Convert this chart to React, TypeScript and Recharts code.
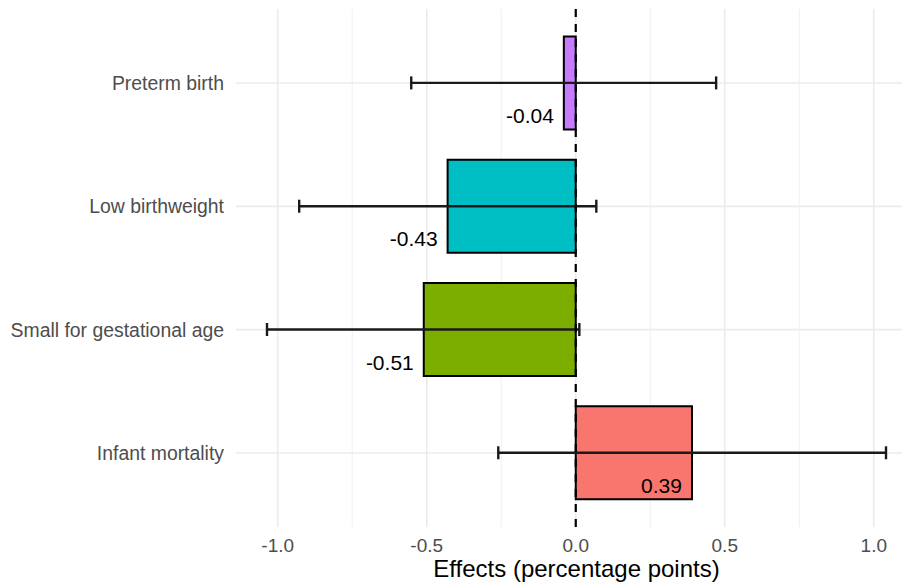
import React from "react";
import {
  BarChart,
  Bar,
  Cell,
  XAxis,
  YAxis,
  ReferenceLine,
  ErrorBar,
  LabelList,
  Label,
} from "recharts";

const categories = [
  "Preterm birth",
  "Low birthweight",
  "Small for gestational age",
  "Infant mortality",
];
const effects = [-0.04, -0.43, -0.51, 0.39];
const ciLow = [-0.552, -0.928, -1.036, -0.26];
const ciHigh = [0.471, 0.069, 0.012, 1.041];
const barColors = ["#C77CFF", "#00BFC4", "#7CAE00", "#F8766D"];

const xTicks = [-1, -0.5, 0, 0.5, 1];
const minorTicks = [-0.75, -0.25, 0.25, 0.75];

const data = categories.map((name, i) => ({
  name,
  value: effects[i],
  err: [effects[i] - ciLow[i], ciHigh[i] - effects[i]],
}));

const FONT = "'Liberation Sans', Arial, sans-serif";

// geom_text(hjust > 1): right edge sits just left of the bar end
function ValueLabel(props: any) {
  const vb = props.viewBox ?? props;
  const x = Number(vb.x);
  const w = Number(vb.width);
  const y = Number(vb.y);
  const h = Number(vb.height);
  const v = Number(props.value);
  const end = v < 0 ? Math.min(x, x + w) : Math.max(x, x + w);
  return (
    <text
      x={end - 10}
      y={y + h / 2 + 40}
      textAnchor="end"
      fontSize={21}
      fontFamily={FONT}
      fill="#000"
    >
      {v.toFixed(2)}
    </text>
  );
}

export default function App() {
  return (
    <div
      style={{
        position: "fixed",
        left: 0,
        top: 0,
        width: 902,
        height: 585,
        overflow: "hidden",
        background: "#fff",
      }}
    >
      <BarChart
        width={930}
        height={585}
        data={data}
        layout="vertical"
        margin={{ top: 9, right: 13, bottom: 0, left: 0 }}
        style={{ fontFamily: FONT }}
      >
        {categories.map((c) => (
          <ReferenceLine key={"h" + c} y={c} stroke="#ebebeb" strokeWidth={1.6} zIndex={-100} />
        ))}
        {minorTicks.map((t) => (
          <ReferenceLine key={"m" + t} x={t} stroke="#f0f0f0" strokeWidth={1} zIndex={-100} />
        ))}
        {xTicks.map((t) => (
          <ReferenceLine key={"g" + t} x={t} stroke="#ebebeb" strokeWidth={1.6} zIndex={-100} />
        ))}
        <XAxis
          type="number"
          domain={[-1.14, 1.145]}
          allowDataOverflow
          ticks={xTicks}
          tickFormatter={(v: number) => v.toFixed(1)}
          axisLine={false}
          tickLine={false}
          tickSize={0}
          tickMargin={12}
          height={58}
          tick={{ fill: "#4d4d4d", fontSize: 19 }}
        >
          <Label
            value="Effects (percentage points)"
            position="insideBottom"
            offset={8}
            fill="#000"
            fontSize={24}
          />
        </XAxis>
        <YAxis
          type="category"
          dataKey="name"
          width={236}
          axisLine={false}
          tickLine={false}
          tickSize={0}
          tickMargin={12}
          padding={{ top: 12.4, bottom: 12.4 }}
          tick={{ fill: "#4d4d4d", fontSize: 19.4 }}
        />
        <Bar
          dataKey="value"
          barSize={93}
          stroke="#000"
          strokeWidth={2}
          isAnimationActive={false}
        >
          {data.map((d, i) => (
            <Cell key={d.name} fill={barColors[i]} />
          ))}
          <ErrorBar
            dataKey="err"
            direction="x"
            width={6.5}
            stroke="#1a1a1a"
            strokeWidth={2.4}
            isAnimationActive={false}
          />
          <LabelList dataKey="value" content={ValueLabel} />
        </Bar>
        <ReferenceLine x={0} stroke="#000" strokeWidth={2.2} strokeDasharray="8 7" />
      </BarChart>
    </div>
  );
}
